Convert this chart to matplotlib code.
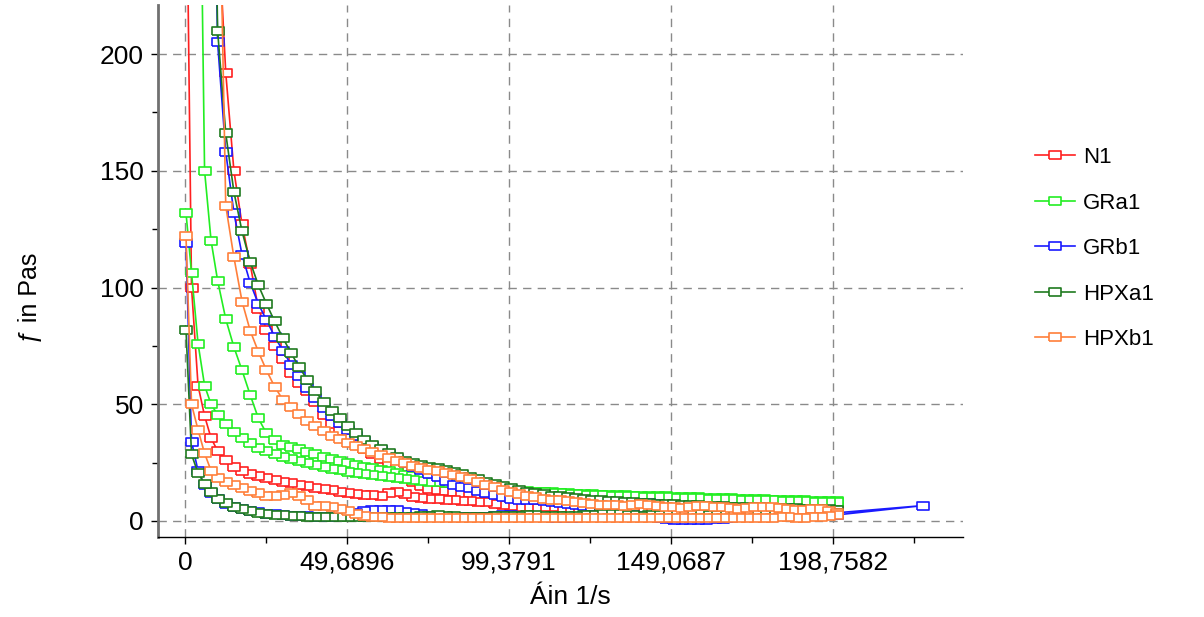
import matplotlib
matplotlib.use("Agg")
import matplotlib.pyplot as plt
from matplotlib.ticker import AutoMinorLocator

plt.rcParams['font.family'] = ['Liberation Sans', 'DejaVu Sans']

# shear rate steps (1/s), same for up and down ramp
shear_rate = [0.3, 2, 4, 6, 8, 10, 12.5, 15, 17.5, 20,
              22.5, 25, 27.5, 30, 32.5, 35, 37.5, 40, 42.5, 45,
              47.5, 50, 52.5, 55, 57.5, 60, 62.5, 65, 67.5, 70,
              72.5, 75, 77.5, 80, 82.5, 85, 87.5, 90, 92.5, 95,
              97.5, 100, 102.5, 105, 107.5, 110, 112.5, 115, 117.5, 120,
              122.5, 125, 127.5, 130, 132.5, 135, 137.5, 140, 142.5, 145,
              147.5, 150, 152.5, 155, 157.5, 160, 162.5, 165, 167.5, 170,
              172.5, 175, 177.5, 180, 182.5, 185, 187.5, 190, 192.5, 195,
              197.5, 200]

# viscosity (Pas), up ramp and down ramp, both listed by rising shear rate
n1_up = [4000, 2000, 1100, 700, 420, 260, 192, 150, 127, 110,
         91, 82, 75, 69.5, 63.5, 59, 55.5, 51, 45.5, 41.5,
         38.5, 35.5, 32.8, 31, 28.8, 26.5, 24.5, 22.5, 19.5, 16.5,
         14.8, 13.9, 13.3, 12.7, 12.2, 11.7, 11.3, 10.9, 10.4, 9.9,
         9.5, 9.1, 8.8, 8.6, 8.4, 8.2, 8.0, 7.8, 7.7, 7.5,
         7.4, 7.2, 7.1, 7.0, 6.9, 6.8, 6.7, 6.6, 6.5, 6.4,
         6.3, 6.2, 6.1, 6.0, 5.9, 5.8, 5.7, 5.6, 5.5, 5.5,
         5.4, 5.3, 5.3, 5.2, 5.1, 5.1, 5.0, 5.0, 4.9, 4.9,
         4.8, 4.8]
n1_down = [300, 100, 58, 45, 35.5, 30, 26, 23.3, 21.5, 20.3,
           19.4, 18.6, 17.7, 16.8, 16.1, 15.4, 14.9, 14.3, 13.8, 13.3,
           12.6, 12.1, 11.7, 11.3, 11.0, 10.8, 11.8, 12.6, 11.4, 10.3,
           9.9, 9.6, 9.3, 9.1, 8.9, 8.7, 8.5, 8.3, 8.0, 7.4,
           6.8, 6.3, 6.0, 5.8, 5.7, 5.9, 6.2, 5.5, 5.0, 4.7,
           4.6, 4.8, 5.2, 5.6, 5.3, 4.6, 4.3, 4.4, 4.9, 5.4,
           5.8, 5.5, 4.9, 4.5, 4.3, 4.2, 4.6, 5.1, 5.5, 5.2,
           4.7, 4.4, 4.2, 4.5, 5.0, 5.4, 5.1, 4.6, 4.4, 4.8,
           5.3, 5.5]

gra1_up = [5000, 1500, 360, 150, 120, 103, 86.5, 74.5, 64.5, 54,
           44, 37.5, 34.7, 32.6, 31.7, 30.7, 29.6, 28.6, 27.6, 26.7,
           25.8, 24.9, 24.1, 23.3, 22.6, 22.0, 21.3, 20.5, 19.8, 19.2,
           18.7, 18.2, 17.7, 17.2, 16.7, 16.2, 15.7, 15.2, 14.7, 14.2,
           13.7, 13.3, 13.0, 12.8, 12.6, 12.4, 12.2, 12.0, 11.9, 11.7,
           11.6, 11.4, 11.3, 11.2, 11.1, 11.0, 10.9, 10.8, 10.7, 10.6,
           10.5, 10.4, 10.3, 10.2, 10.1, 10.0, 9.9, 9.8, 9.7, 9.6,
           9.5, 9.4, 9.3, 9.2, 9.1, 9.0, 8.9, 8.8, 8.7, 8.6,
           8.5, 8.4]
gra1_down = [132, 106, 76, 58, 50, 45.5, 41.5, 38.2, 35.6, 33.2,
             31.3, 29.8, 28.6, 27.4, 26.4, 25.5, 24.7, 23.8, 23.0, 22.3,
             21.7, 21.1, 20.6, 20.1, 19.6, 19.1, 18.7, 18.3, 17.9, 17.5,
             17.2, 16.9, 16.6, 16.3, 16.0, 15.6, 15.2, 14.8, 14.4, 14.0,
             13.6, 13.2, 12.8, 12.6, 12.4, 12.2, 12.0, 11.8, 11.6, 11.5,
             11.3, 11.1, 11.0, 10.9, 10.7, 10.6, 10.5, 10.4, 10.3, 10.2,
             10.1, 10.0, 9.9, 9.8, 9.7, 9.6, 9.5, 9.4, 9.3, 9.2,
             9.1, 9.0, 8.9, 8.8, 8.7, 8.6, 8.5, 8.4, 8.3, 8.2,
             8.1, 8.0]

grb1_up = [5000, 2500, 1200, 650, 360, 205, 158, 132, 114, 102,
           93, 86, 79, 73, 67, 62, 57, 52.5, 48.5, 45,
           42, 39, 36.5, 34.2, 32.3, 30.5, 28.5, 26.5, 24.8, 23.3,
           21.8, 20.3, 18.7, 17.2, 15.6, 14.4, 14.0, 13.0, 12.0, 11.0,
           10.3, 9.6, 9.1, 8.9, 8.8, 8.6, 8.3, 7.9, 7.4, 6.9,
           6.4, 5.9, 5.6, 5.8, 6.4, 7.0, 7.4, 7.6, 7.5, 7.2,
           6.8, 6.4, 6.0, 5.7, 5.4, 5.2, 5.0, 4.8, 4.7, 4.5,
           4.4, 4.3, 4.2, 4.1, 4.0, 3.9, 3.8, 3.8, 3.7, 3.6,
           3.6, 3.5]
grb1_peak_rate = 226.5
grb1_peak_eta = 6.6
grb1_down = [119, 34, 21.5, 15.5, 12, 9.5, 7.4, 6.1, 5.1, 4.3,
             3.7, 3.2, 2.8, 2.5, 2.3, 2.1, 2.0, 1.9, 1.8, 1.8,
             2.0, 2.6, 3.4, 4.1, 4.6, 4.8, 4.7, 4.5, 4.0, 3.4,
             2.8, 2.3, 2.0, 1.8, 1.7, 1.6, 1.6, 1.7, 1.9, 2.3,
             2.6, 2.5, 2.2, 1.9, 1.7, 1.5, 1.4, 1.3, 1.3, 1.4,
             1.6, 1.9, 2.4, 3.0, 3.3, 3.1, 2.6, 2.0, 1.5, 1.1,
             0.8, 0.6, 0.5, 0.4, 0.4, 0.5, 0.7, 1.0, 1.4, 1.8,
             2.2, 2.5, 2.7, 2.8, 2.7, 2.6, 2.5, 2.5, 2.4, 2.5,
             2.6, 2.6]

hpxa1_up = [5000, 2500, 1300, 700, 380, 210, 166, 141, 124, 111,
            101, 93, 85.5, 78.5, 72, 66, 60.5, 55.5, 51, 47.2,
            44.2, 40.8, 37.5, 34.8, 32.7, 31.0, 29.2, 27.3, 25.8, 24.7,
            23.9, 23.2, 22.5, 21.8, 21.0, 20.0, 18.9, 17.9, 16.9, 15.9,
            14.9, 14.0, 13.2, 12.5, 11.9, 11.4, 10.9, 10.5, 10.1, 9.8,
            9.5, 9.2, 8.9, 8.7, 8.4, 8.2, 8.0, 7.8, 7.6, 7.4,
            7.3, 7.1, 7.0, 6.8, 6.7, 6.6, 6.5, 6.3, 6.2, 6.1,
            6.0, 5.9, 5.8, 5.7, 5.6, 5.5, 5.4, 5.3, 5.2, 5.1,
            5.0, 4.9]
hpxa1_down = [82, 28.5, 20.5, 16, 12.5, 9.6, 7.5, 6.2, 5.2, 4.3,
              3.6, 3.0, 2.7, 2.4, 2.2, 2.0, 1.9, 1.8, 1.7, 1.7,
              1.6, 1.6, 1.5, 1.5, 1.5, 1.6, 1.6, 1.7, 1.8, 1.9,
              2.1, 2.3, 2.4, 2.3, 2.1, 1.9, 1.8, 1.8, 1.9, 2.0,
              2.1, 2.2, 2.3, 2.4, 2.4, 2.3, 2.2, 2.1, 2.1, 2.2,
              2.4, 2.6, 2.8, 2.9, 2.8, 2.6, 2.4, 2.3, 2.4, 2.6,
              2.9, 3.1, 3.2, 3.1, 2.9, 2.7, 2.6, 2.7, 2.9, 3.1,
              3.3, 3.4, 3.3, 3.1, 3.0, 3.1, 3.3, 3.4, 3.5, 3.5,
              3.6, 3.6]

hpxb1_up = [5000, 2500, 1300, 800, 500, 320, 135, 113, 94, 81.5,
            72.5, 64.5, 57.5, 52, 48.7, 45.8, 42.9, 40.6, 38.5, 36.3,
            34.9, 33.5, 32.2, 30.8, 29.5, 28.2, 27.0, 25.8, 24.7, 23.7,
            22.8, 22.0, 21.2, 20.5, 19.8, 19.0, 17.8, 16.6, 15.4, 14.4,
            13.4, 12.5, 11.6, 10.8, 10.1, 9.6, 9.2, 9.0, 8.7, 8.2,
            7.7, 7.3, 7.0, 6.8, 6.7, 6.6, 6.9, 7.2, 7.0, 6.6,
            6.2, 5.9, 5.7, 5.9, 6.3, 6.5, 6.2, 5.8, 5.5, 5.3,
            5.6, 6.0, 6.2, 5.9, 5.5, 5.1, 4.8, 4.9, 5.2, 5.0,
            4.4, 3.5]
hpxb1_down = [122, 50, 39, 29, 21.5, 18.5, 16.6, 15.4, 14.0, 12.8,
              11.8, 10.9, 10.8, 11.3, 11.8, 10.9, 8.8, 6.5, 6.4, 5.9,
              5.0, 4.1, 3.2, 2.3, 1.8, 1.5, 1.4, 1.3, 1.3, 1.3,
              1.3, 1.3, 1.4, 1.4, 1.4, 1.3, 1.3, 1.3, 1.3, 1.3,
              1.4, 1.4, 1.4, 1.3, 1.3, 1.2, 1.2, 1.3, 1.3, 1.4,
              1.4, 1.3, 1.3, 1.2, 1.2, 1.3, 1.3, 1.4, 1.4, 1.3,
              1.3, 1.2, 1.3, 1.3, 1.4, 1.4, 1.3, 1.3, 1.3, 1.4,
              1.4, 1.3, 1.3, 1.4, 1.5, 1.5, 1.4, 1.4, 1.6, 1.9,
              2.3, 2.6]

x_ticks = [0, 49.6896, 99.3791, 149.0687, 198.7582]
x_tick_labels = ["0", "49,6896", "99,3791", "149,0687", "198,7582"]
y_ticks = [0, 50, 100, 150, 200]

series = [
    ("N1", "#ff2020", n1_up, n1_down),
    ("GRa1", "#22ee22", gra1_up, gra1_down),
    ("GRb1", "#1a1aff", grb1_up, grb1_down),
    ("HPXa1", "#1f7a1f", hpxa1_up, hpxa1_down),
    ("HPXb1", "#ff7f3a", hpxb1_up, hpxb1_down),
]

fig = plt.figure(figsize=(12.04, 6.17), dpi=100)
ax = fig.add_axes([0.1312, 0.1297, 0.6686, 0.8622])

box = [(-1.6, -1), (1.6, -1), (1.6, 1), (-1.6, 1), (-1.6, -1)]
for name, color, up, down in series:
    x = list(shear_rate)
    y = list(up)
    if name == "GRb1":
        x.append(grb1_peak_rate)
        y.append(grb1_peak_eta)
    x = x + shear_rate[::-1]
    y = y + down[::-1]
    ax.plot(x, y, color=color, lw=1.2, marker=box, ms=8.5,
            mfc='white', mec=color, mew=1.2, label=name)

ax.set_xlim(-8.3, 238.7)
ax.set_ylim(-6.85, 221)
ax.set_xticks(x_ticks)
ax.set_xticklabels(x_tick_labels)
ax.set_yticks(y_ticks)
ax.xaxis.set_minor_locator(AutoMinorLocator(2))
ax.yaxis.set_minor_locator(AutoMinorLocator(2))
ax.tick_params(which='both', direction='out', width=1, labelsize=19)
ax.tick_params(which='major', length=5, pad=5)
ax.tick_params(which='minor', length=4)

ax.set_axisbelow(True)
ax.grid(True, which='major', color='#8a8a8a', lw=1.0, linestyle=(0, (6, 4.5)))

for s in ['top', 'right']:
    ax.spines[s].set_visible(False)
ax.spines['left'].set_color('#707070')
ax.spines['left'].set_linewidth(2)
ax.spines['bottom'].set_color('black')
ax.spines['bottom'].set_linewidth(1)

ax.set_xlabel("Áin 1/s", fontsize=19)
ax.xaxis.set_label_coords(0.512, -0.113)
ax.xaxis.label.set_va('center')
ax.set_ylabel("ƒ in Pas", fontsize=18)
ax.yaxis.set_label_coords(-0.159, 0.449)
ax.yaxis.label.set_va('center')

fig.legend(loc='center left', bbox_to_anchor=(1035 / 1204, 0.597), frameon=False,
           fontsize=16, handlelength=1.8, labelspacing=1.1, handletextpad=0.35,
           borderpad=0, borderaxespad=0)

fig.savefig("out.png", dpi=100)
